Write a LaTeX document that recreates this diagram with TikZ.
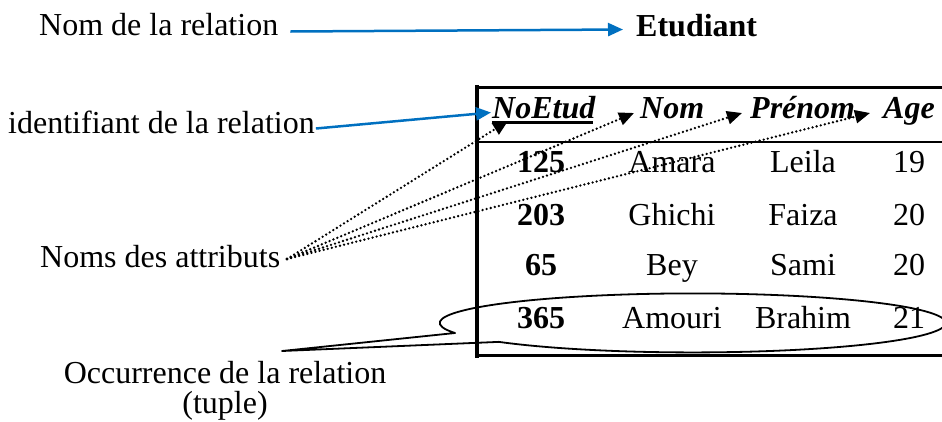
\documentclass[tikz,border=0pt]{standalone}
\usepackage{fontspec}
\setmainfont{Liberation Serif}
\usetikzlibrary{arrows.meta}
\definecolor{wblue}{RGB}{0,112,192}
\begin{document}
\begin{tikzpicture}[x=1pt,y=-1pt,
  txt/.style={inner sep=0pt, font=\fontsize{32}{38}\selectfont},
  lbl/.style={txt, anchor=base west},
  cell/.style={txt, anchor=base},
  bcell/.style={cell, font=\fontsize{32}{38}\selectfont\bfseries},
  hdr/.style={lbl, font=\fontsize{32}{38}\selectfont\bfseries\itshape},
  bluearrow/.style={draw=wblue, line width=2.5pt, -{Triangle[length=15pt,width=13pt]}},
  dotarrow/.style={draw=black, line width=2.6pt, dash pattern=on 0pt off 4.2pt, line cap=round, -{Triangle[length=15pt,width=13pt]}},
  thickrule/.style={line width=3.5pt},
  thinrule/.style={line width=2pt},
  callout/.style={draw=black, line width=1.8pt, line join=round}
]
\useasboundingbox (0,0) rectangle (942,421);

% labels
\node[lbl] (nomrel) at (39,35) {Nom de la relation};
\node[lbl, font=\fontsize{32}{38}\selectfont\bfseries] (etud) at (636,36) {Etudiant};
\node[lbl] (ident) at (8,133) {identifiant de la relation};
\node[lbl] (attr) at (40,267) {Noms des attributs};
\node[cell] (occ1) at (225,383) {Occurrence de la relation};
\node[cell] (occ2) at (225,413) {(tuple)};

% table frame
\coordinate (tr) at (942,87.5);
\coordinate (sl) at (477,142);
\coordinate (sr) at (942,142);
\coordinate (br) at (942,355.5);
\draw[line width=4pt] (477,85) -- (477,358);
\draw[thickrule] (475,87.5) -- (tr);
\draw[thinrule] (sl) -- (sr);
\draw[thickrule] (475,355.5) -- (br);

% header
\node[hdr] (h1) at (492,118) {NoEtud};
\draw[line width=3pt] (h1.base west) ++(0,4.5) -- ++(101,0);
\node[hdr] (h2) at (640,118) {Nom};
\node[hdr] (h3) at (750,118) {Prénom};
\node[hdr] (h4) at (883,118) {Age};

% rows
\node[bcell] (r1c1) at (541,172) {125};
\node[cell]  (r1c2) at (672,172) {Amara};
\node[cell]  (r1c3) at (803,172) {Leila};
\node[cell]  (r1c4) at (909,172) {19};
\node[bcell] (r2c1) at (541,225) {203};
\node[cell]  (r2c2) at (672,225) {Ghichi};
\node[cell]  (r2c3) at (803,225) {Faiza};
\node[cell]  (r2c4) at (909,225) {20};
\node[bcell] (r3c1) at (541,275) {65};
\node[cell]  (r3c2) at (672,275) {Bey};
\node[cell]  (r3c3) at (803,275) {Sami};
\node[cell]  (r3c4) at (909,275) {20};
\node[bcell] (r4c1) at (541,328) {365};
\node[cell]  (r4c2) at (672,328) {Amouri};
\node[cell]  (r4c3) at (803,328) {Brahim};
\node[cell]  (r4c4) at (909,328) {21};

% blue arrows
\draw[bluearrow] (nomrel.east |- 0,31.5) ++(12,0) -- (623,29.5);
\draw[bluearrow] (ident.east |- 0,128.5) ++(1,0) -- (491,112.5);

% dotted arrows
\coordinate (ds) at (287,259);
\coordinate (t1) at (508,121);
\coordinate (t2) at (634,113);
\coordinate (t3) at (742,113);
\coordinate (t4) at (870,113);
\draw[dotarrow] (ds) -- (t1);
\draw[dotarrow] (ds) -- (t2);
\draw[dotarrow] (ds) -- (t3);
\draw[dotarrow] (ds) -- (t4);

% callout around last tuple
\coordinate (ptip) at (282,351);
\draw[callout] (ptip) -- (455,333)
  arc[start angle=200, end angle=-140, x radius=253pt, y radius=29.5pt] -- cycle;
\end{tikzpicture}
\end{document}
